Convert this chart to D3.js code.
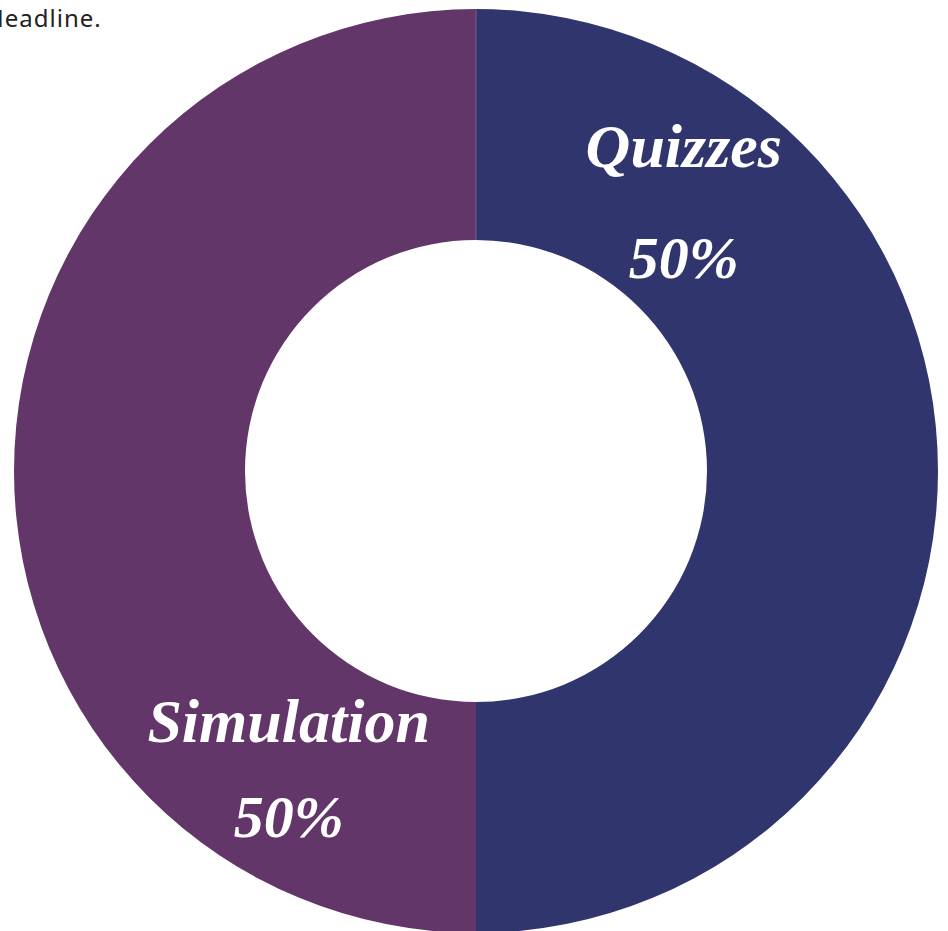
<!DOCTYPE html>
<html>
<head>
<meta charset="utf-8">
<script src="https://cdn.jsdelivr.net/npm/d3@7"></script>
<style>
  html, body { margin: 0; padding: 0; background: #fff; overflow: hidden; }
  svg { display: block; }
</style>
</head>
<body>
<svg id="chart" width="948" height="931"></svg>
<script>
// ---- data ----
const categories = ["Quizzes", "Simulation"];
const values = [50, 50];
const colors = ["#31356d", "#63366a"];
const headline = "Headline.";

// ---- layout ----
const W = 948, H = 931;
const cx = 476, cy = 471;
const outerR = 462, innerR = 231;

const svg = d3.select("#chart");

svg.append("text")
  .attr("x", -14)
  .attr("y", 27)
  .attr("font-family", "'Noto Sans', sans-serif")
  .attr("font-size", 24)
  .attr("letter-spacing", 1)
  .attr("fill", "#222")
  .text(headline);

const data = categories.map((c, i) => ({ name: c, value: values[i], color: colors[i] }));

const pie = d3.pie().value(d => d.value).sort(null);
const arcs = pie(data);
const arc = d3.arc().innerRadius(innerR).outerRadius(outerR);

const g = svg.append("g").attr("transform", `translate(${cx},${cy})`);

g.selectAll("path.slice")
  .data(arcs)
  .join("path")
  .attr("class", "slice")
  .attr("d", arc)
  .attr("fill", d => d.data.color);

// thin seam line at the top
g.append("line")
  .attr("x1", 0).attr("x2", 0)
  .attr("y1", -outerR).attr("y2", -innerR)
  .attr("stroke", "#8a7fa0").attr("stroke-width", 0.6);

// label positions along each slice (fraction of the slice span) and radius
const labelFrac = [0.22, 0.17];
const labelR = [326, 368];
const nameY = [-53, -46];
const valY = [58, 49];

const fmt = d => d3.format(".0f")(d) + "%";

const labels = g.selectAll("g.label")
  .data(arcs)
  .join("g")
  .attr("class", "label")
  .attr("transform", (d, i) => {
    const a = d.startAngle + (d.endAngle - d.startAngle) * labelFrac[i];
    const x = Math.sin(a) * labelR[i];
    const y = -Math.cos(a) * labelR[i];
    return `translate(${x},${y})`;
  });

labels.append("text")
  .attr("text-anchor", "middle")
  .attr("y", (d, i) => nameY[i])
  .attr("font-family", "'Liberation Serif', serif")
  .attr("font-style", "italic")
  .attr("font-weight", "bold")
  .attr("font-size", 62)
  .attr("fill", "#fff")
  .text(d => d.data.name);

labels.append("text")
  .attr("text-anchor", "middle")
  .attr("y", (d, i) => valY[i])
  .attr("font-family", "'Liberation Serif', serif")
  .attr("font-style", "italic")
  .attr("font-weight", "bold")
  .attr("font-size", 60)
  .attr("fill", "#fff")
  .text(d => fmt(d.data.value));
</script>
</body>
</html>
